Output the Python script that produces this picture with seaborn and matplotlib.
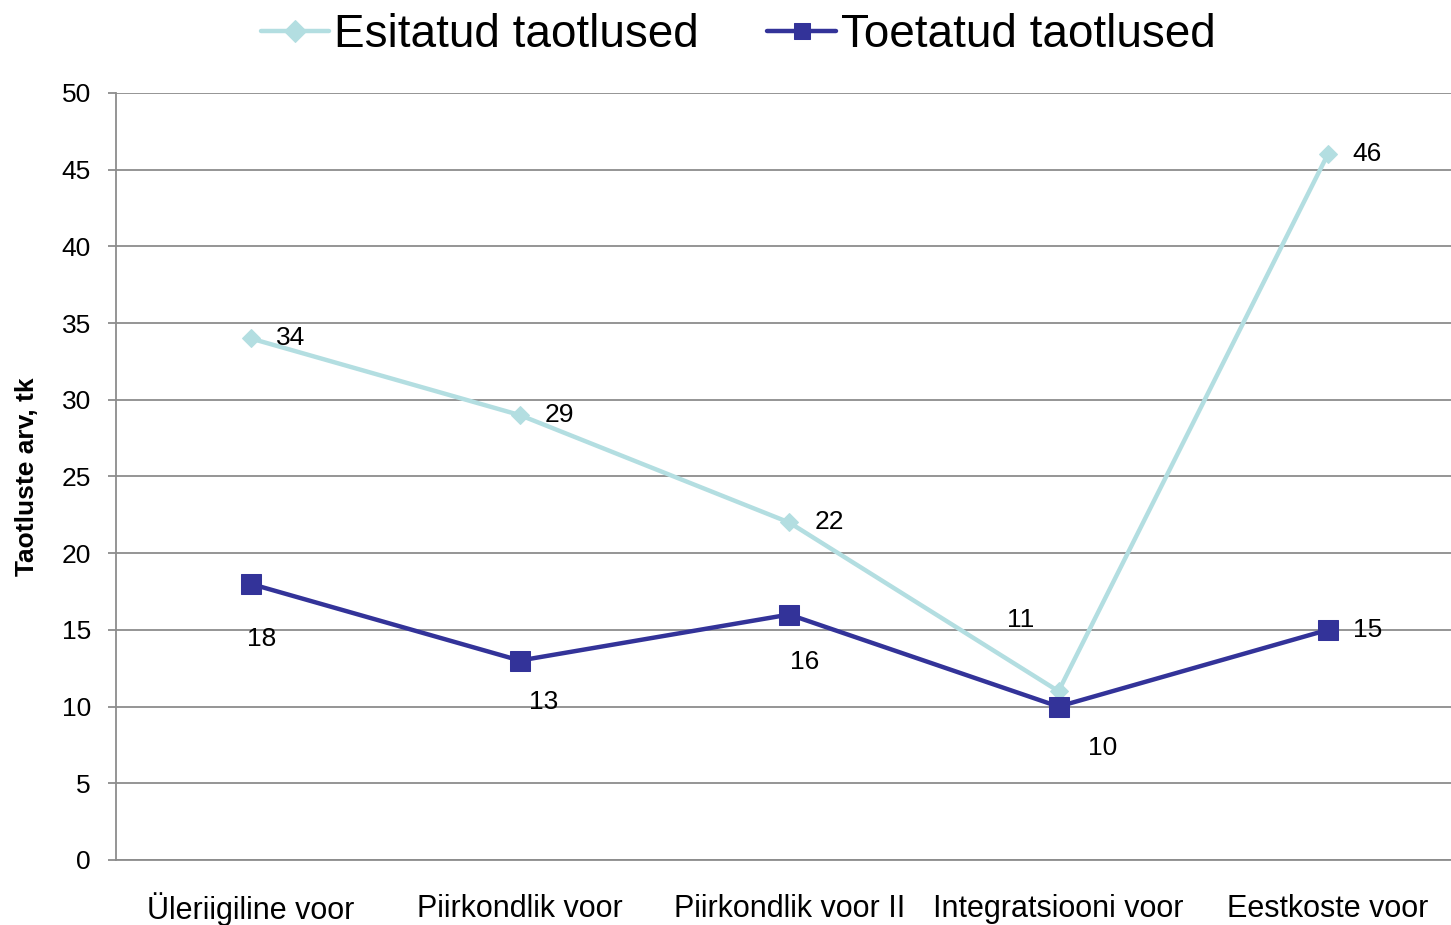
import matplotlib
matplotlib.use("Agg")
import matplotlib.pyplot as plt
import seaborn as sns
import pandas as pd

categories = ["Üleriigiline voor", "Piirkondlik voor", "Piirkondlik voor II",
              "Integratsiooni voor", "Eestkoste voor"]
esitatud = [34, 29, 22, 11, 46]
toetatud = [18, 13, 16, 10, 15]
series_names = ["Esitatud taotlused", "Toetatud taotlused"]

sns.set_theme(style="white")
plt.rcParams['font.family'] = ['Liberation Sans', 'DejaVu Sans']
plt.rcParams['text.color'] = 'black'

fig = plt.figure(figsize=(14.51, 9.25), dpi=100)
ax = fig.add_axes([0.0799, 0.0703, 0.928, 0.8292])

light = "#B3DEE1"
dark = "#333399"

df = pd.DataFrame({
    "kategooria": categories * 2,
    "vaartus": esitatud + toetatud,
    "seeria": [series_names[0]] * 5 + [series_names[1]] * 5,
})

sns.lineplot(data=df[df.seeria == series_names[0]], x="kategooria", y="vaartus",
             color=light, lw=3.2, marker="D", markersize=9, markeredgecolor=light,
             ax=ax, label=series_names[0], sort=False)
sns.lineplot(data=df[df.seeria == series_names[1]], x="kategooria", y="vaartus",
             color=dark, lw=3.2, marker="s", markersize=14, markeredgecolor=dark,
             ax=ax, label=series_names[1], sort=False)

ax.set_xlim(-0.5, 4.5)
ax.set_ylim(0, 50)
ax.set_yticks(range(0, 51, 5))
ax.yaxis.grid(True, color="#8c8c8c", lw=1.3)
ax.xaxis.grid(False)
ax.set_axisbelow(True)
for s in ["top", "right"]:
    ax.spines[s].set_visible(False)
for s in ["left", "bottom"]:
    ax.spines[s].set_color("#8c8c8c")
    ax.spines[s].set_linewidth(1.3)
ax.tick_params(axis="y", which="both", left=True, length=6, width=1.3,
               color="#8c8c8c", labelsize=19, pad=12, labelcolor="black")
ax.tick_params(axis="x", bottom=False, labelsize=22, pad=29, labelcolor="black")
for lab in ax.get_xticklabels():
    lab.set_va("center")
ax.set_xlabel("")
ax.set_ylabel("Taotluste arv, tk", fontsize=19, fontweight="bold", labelpad=16,
              color="black")

# data labels (offsets in points)
off_e = [(18, 0), (18, 0), (18, 0), (-27, 51), (18, 0)]
off_t = [(8, -40), (17, -30), (11, -34), (32, -30), (18, 0)]
for i, (v, o) in enumerate(zip(esitatud, off_e)):
    ax.annotate(str(v), (i, v), xytext=o, textcoords="offset points",
                fontsize=19, va="center", ha="left" if o[1] == 0 else "center")
for i, (v, o) in enumerate(zip(toetatud, off_t)):
    ax.annotate(str(v), (i, v), xytext=o, textcoords="offset points",
                fontsize=19, va="center", ha="left" if o[1] == 0 else "center")

leg = ax.legend(loc="center", bbox_to_anchor=(0.462, 1.076), ncol=2,
                frameon=False, fontsize=33, handlelength=1.5, handletextpad=0.1,
                columnspacing=1.5)
for t in leg.get_texts():
    t.set_color("black")
for h in leg.legend_handles:
    h.set_markersize(11)

fig.savefig("out.png", dpi=100)
